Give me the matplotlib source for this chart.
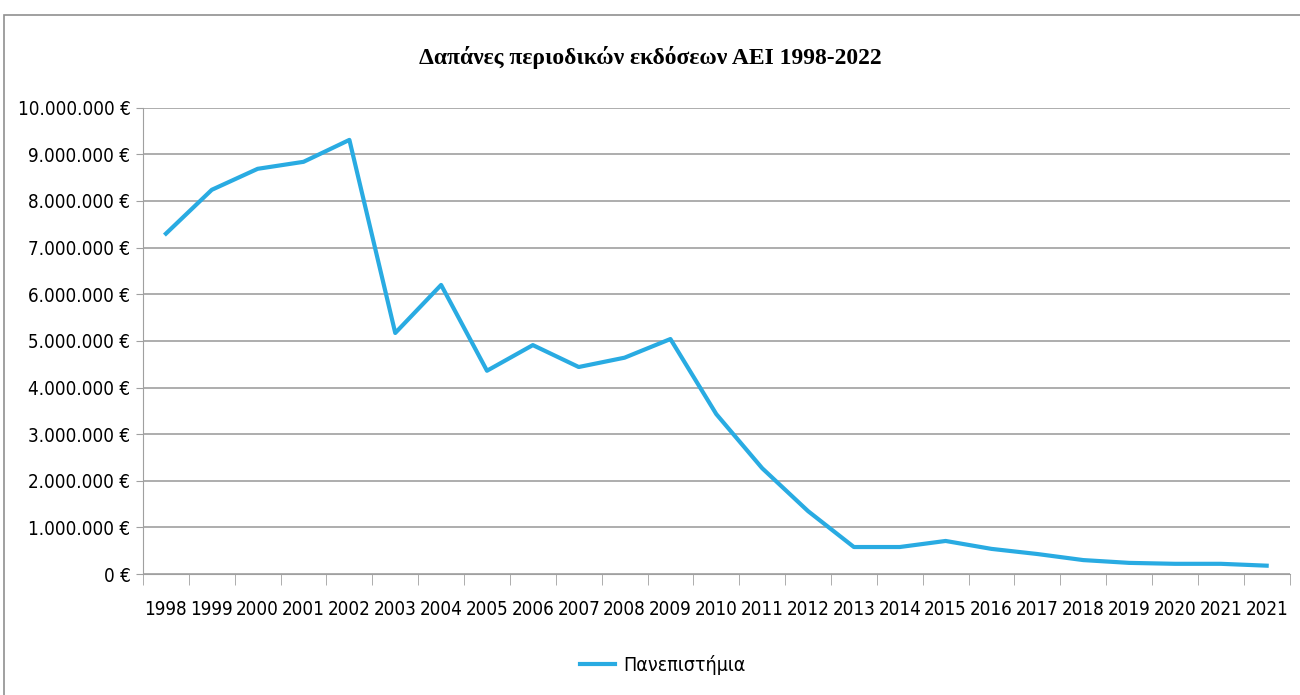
import matplotlib.pyplot as plt
from matplotlib.patches import Rectangle
from matplotlib.ticker import FuncFormatter

years = ['1998', '1999', '2000', '2001', '2002', '2003', '2004', '2005', '2006',
         '2007', '2008', '2009', '2010', '2011', '2012', '2013', '2014', '2015',
         '2016', '2017', '2018', '2019', '2020', '2021', '2021']
spend = [7300000, 8240000, 8690000, 8840000, 9310000, 5170000, 6200000, 4360000,
         4910000, 4440000, 4640000, 5040000, 3430000, 2270000, 1350000, 580000,
         580000, 710000, 540000, 430000, 300000, 240000, 220000, 220000, 180000]

plt.rcParams['font.family'] = ['DejaVu Sans']
plt.rcParams['font.stretch'] = 'condensed'

fig = plt.figure(figsize=(13, 6.95), dpi=100)
ax = fig.add_axes([0.11, 0.174, 0.882, 0.671])

x = list(range(len(years)))
ax.plot(x, spend, color='#29ABE2', linewidth=3, label='Πανεπιστήμια')

ax.set_xlim(-0.5, len(years) - 0.5)
ax.set_ylim(0, 10000000)
ax.set_yticks(range(0, 10000001, 1000000))
ax.yaxis.set_major_formatter(FuncFormatter(lambda v, p: f'{int(v):,}'.replace(',', '.') + ' €'))
ax.set_xticks(x)
ax.set_xticklabels(years)
ax.set_xticks([i - 0.5 for i in range(len(years) + 1)], minor=True)
ax.tick_params(axis='x', which='major', length=0, pad=19, labelsize=13.5)
ax.tick_params(axis='x', which='minor', length=8, color='#a0a0a0')
ax.tick_params(axis='y', length=5, color='#a0a0a0', labelsize=13.5, pad=4)

ax.grid(axis='y', color='#a0a0a0', linewidth=1.2)
ax.set_axisbelow(True)
for s in ['top', 'right']:
    ax.spines[s].set_visible(False)
for s in ['left', 'bottom']:
    ax.spines[s].set_color('#a0a0a0')

fig.text(0.5, 0.917, 'Δαπάνες περιοδικών εκδόσεων ΑΕΙ 1998-2022', ha='center', va='center',
         fontsize=17, fontweight='bold', family=['Liberation Serif', 'DejaVu Serif'])

fig.legend(loc='center', bbox_to_anchor=(0.51, 0.043), frameon=False, fontsize=14,
           handlelength=1.8, handletextpad=0.4)

fig.patches.append(Rectangle((0.003, -0.01), 1.0, 0.989, transform=fig.transFigure,
                             fill=False, edgecolor='#909090', linewidth=1.2))

fig.savefig('out.png')
